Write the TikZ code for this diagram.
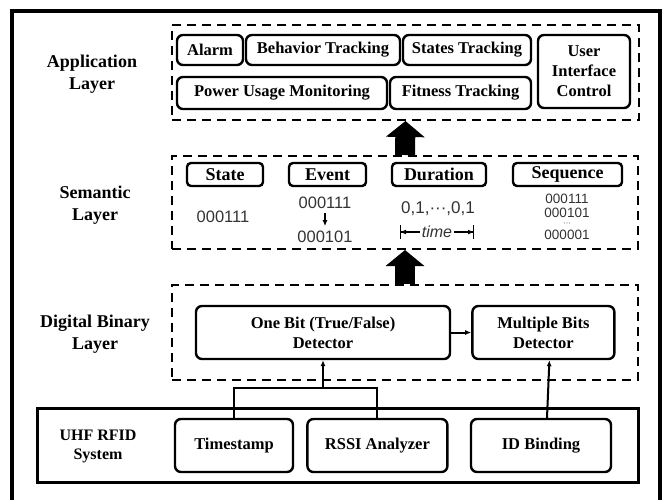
\documentclass[tikz,border=0pt]{standalone}
\usepackage{fontspec}
\setmainfont{Liberation Serif}
\newfontfamily\numfont{Liberation Sans}
\usetikzlibrary{arrows.meta,positioning}

\begin{document}
\begin{tikzpicture}[
            x = 1pt, y = -1pt, % pixel grid, y runs downwards
            > = {Latex[length=6pt,width=5pt]}, % arrow head style
            line width = 2pt % line style
        ]

        \tikzstyle{box}=[
            draw = black,
            line width = 2.4pt,
            rounded corners = 6pt,
            inner sep = 0pt,
            align = center,
            font = \fontsize{16.5}{20}\selectfont\bfseries
        ]
        \tikzstyle{tag}=[box, rounded corners = 4pt, minimum height = 23pt, font = \fontsize{18}{20}\selectfont\bfseries]
        \tikzstyle{layer}=[draw = black, line width = 2pt, dash pattern = on 9pt off 6pt, inner sep = 0pt]
        \tikzstyle{title}=[align = center, font = \fontsize{18}{22}\selectfont\bfseries]
        \tikzstyle{bits}=[inner sep = 0pt, text = black!80, font = \fontsize{16.5}{18}\selectfont\numfont]
        \tikzstyle{seqbits}=[bits, font = \fontsize{13.5}{14}\selectfont\numfont]
        \tikzstyle{block}=[line width = 20pt, -{Triangle[length=16pt,width=38pt]}]

        \useasboundingbox (0,0) rectangle (669,499);
        \draw[line width = 4.5pt] (12,510) -- (12,11) -- (660,11) -- (660,510);

        % layers
        \node[layer, minimum width = 467pt, minimum height = 95pt] (app) at (405.5,72.5) {};
        \node[layer, minimum width = 466pt, minimum height = 93pt] (sem) at (405,202.5) {};
        \node[layer, minimum width = 466pt, minimum height = 95pt] (dig) at (405,332.5) {};
        \node[draw, line width = 3pt, inner sep = 0pt, minimum width = 601pt, minimum height = 74pt] (uhf) at (337.5,445) {};

        \node[title] (applabel) at (92,74) {Application\\Layer};
        \node[title] (semlabel) at (95,205) {Semantic\\Layer};
        \node[title] (diglabel) at (95,334) {Digital Binary\\Layer};
        \node[title, font = \fontsize{16}{19}\selectfont\bfseries] (uhflabel) at (98,446) {UHF RFID\\System};

        % application layer
        \node[box, minimum width = 66pt, minimum height = 30pt] (alarm) at (210,50) {Alarm};
        \node[box, minimum width = 154pt, minimum height = 30pt] (behav) at (323,50) {Behavior Tracking};
        \node[box, minimum width = 128pt, minimum height = 30pt] (states) at (467,50) {States Tracking};
        \node[box, minimum width = 92pt, minimum height = 73pt] (ui) at (584,71.5) {User\\Interface\\Control};
        \node[box, minimum width = 210pt, minimum height = 32pt] (power) at (282,93) {Power Usage Monitoring};
        \node[box, minimum width = 141pt, minimum height = 32pt] (fitness) at (460.5,93) {Fitness Tracking};

        % semantic layer
        \node[tag, minimum width = 76pt] (state) at (225,174.5) {State};
        \node[tag, minimum width = 77pt] (event) at (327.5,174.5) {Event};
        \node[tag, minimum width = 94pt] (duration) at (439,174.5) {Duration};
        \node[tag, minimum width = 109pt] (sequence) at (567.5,174.5) {Sequence};

        \node[bits] (stateval) at (223,217) {000111};
        \node[bits] (evtop) at (325,203) {000111};
        \node[bits] (evbot) at (325,237) {000101};
        \draw[->, line width = 1.5pt, shorten < = 3pt, shorten > = 4pt] (evtop) -- (evbot);

        \node[bits, font = \fontsize{17}{18}\selectfont\numfont] (durval) at (438,209) {0,1,···,0,1};
        \coordinate (tl) at (400,232);
        \coordinate (tr) at (474,232);
        \draw[line width = 1.2pt, {Bar[width=14pt]}-{Bar[width=14pt]}] (tl) -- (tr);
        \node[bits, fill = white, font = \fontsize{16}{18}\selectfont\numfont\itshape, inner xsep = 2pt] (time) at (437,232) {time};
        \draw[->, line width = 1.2pt] (time.west) -- (tl);
        \draw[->, line width = 1.2pt] (time.east) -- (tr);

        \node[seqbits] (seqa) at (567,199) {000111};
        \node[seqbits] (seqb) at (567,213) {000101};
        \node[bits, font = \fontsize{7.5}{7.5}\selectfont\numfont] (seqdots) at (567,224) {···};
        \node[seqbits] (seqc) at (567,235) {000001};

        % digital binary layer
        \node[box, minimum width = 254pt, minimum height = 53pt] (onebit) at (323,332.5) {One Bit (True/False)\\Detector};
        \node[box, minimum width = 142pt, minimum height = 53pt, right = 20pt of onebit] (multi) {Multiple Bits\\Detector};

        % uhf rfid system
        \node[box, minimum width = 118pt, minimum height = 53pt] (stamp) at (234,445.5) {Timestamp};
        \node[box, minimum width = 140pt, minimum height = 53pt, right = 12pt of stamp] (rssi) {RSSI Analyzer};
        \node[box, minimum width = 140pt, minimum height = 53pt] (idb) at (541,445.5) {ID Binding};

        \coordinate (join) at (323,388);

        \draw[block] (sem.north) -- (app.south);
        \draw[block] (dig.north) -- (sem.south);
        \draw[->] (onebit) -- (multi);
        \draw (stamp.north) |- (join) -| (rssi.north);
        \draw[->] (join) -- (onebit.south);
        \draw[->] ([xshift=6pt]idb.north) -- ([xshift=6pt]multi.south);

    \end{tikzpicture}
\end{document}
